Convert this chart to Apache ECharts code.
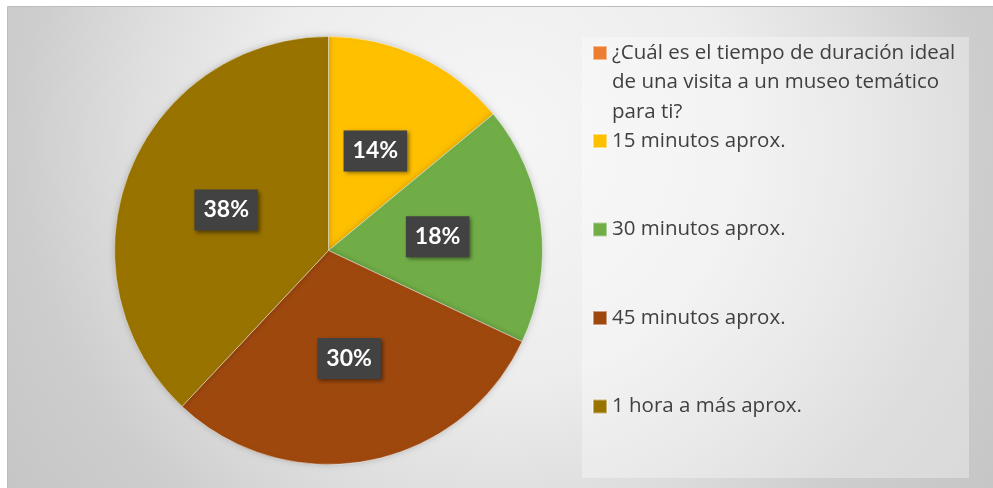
<!DOCTYPE html>
<html>
<head>
<meta charset="utf-8">
<style>
  html, body { margin: 0; padding: 0; background: #ffffff; }
  #chart { width: 993px; height: 488px; }
</style>
<script src="https://cdn.jsdelivr.net/npm/echarts@6/dist/echarts.min.js"></script>
</head>
<body>
<div id="chart"></div>
<script>
// Survey question shown as the first legend entry (it carries no share of the pie)
const question = '¿Cuál es el tiempo de duración ideal de una visita a un museo temático para ti?';
const questionLines = ['¿Cuál es el tiempo de duración ideal', 'de una visita a un museo temático', 'para ti?'];

// Answer categories and their percentages
const categories = [question, '15 minutos aprox.', '30 minutos aprox.', '45 minutos aprox.', '1 hora a más aprox.'];
const shares = [0, 14, 18, 30, 38];
const colors = ['#ED7D31', '#FFC000', '#70AD47', '#9E480E', '#997300'];

const chart = echarts.init(document.getElementById('chart'), null, { renderer: 'canvas' });

const pieData = categories.map((name, i) => ({
  name: name,
  value: shares[i],
  itemStyle: { color: colors[i] },
  label: { show: shares[i] > 0 }
}));

const LINE_H = 29.5;
const legendText = {
  fontFamily: 'Open Sans',
  fontSize: 20.5,
  color: '#404040',
  lineHeight: LINE_H
};

chart.setOption({
  animation: false,
  graphic: [
    {
      type: 'rect',
      z: -10,
      silent: true,
      shape: { x: 7.5, y: 6.5, width: 1000, height: 500 },
      style: {
        fill: {
          type: 'radial', x: 500, y: 140, r: 600, global: true,
          colorStops: [
            { offset: 0, color: '#f6f6f6' },
            { offset: 0.4, color: '#ededed' },
            { offset: 0.6, color: '#dfdfdf' },
            { offset: 0.8, color: '#cdcdcd' },
            { offset: 1, color: '#c6c6c6' }
          ]
        },
        stroke: '#bdbdbd',
        lineWidth: 1
      }
    },
    {
      type: 'rect',
      z: -9,
      silent: true,
      shape: { x: 582, y: 37, width: 387, height: 441 },
      style: { fill: 'rgba(255,255,255,0.33)' }
    }
  ],
  legend: [
    {
      // two leading blank lines keep the marker beside the first line of the question
      data: [question],
      orient: 'vertical',
      left: 592,
      top: 53 - 2.5 * LINE_H,
      padding: 0,
      itemWidth: 14,
      itemHeight: 14,
      icon: 'rect',
      selectedMode: false,
      formatter: () => '\n\n' + questionLines.join('\n'),
      textStyle: legendText
    },
    {
      data: categories.slice(1),
      orient: 'vertical',
      left: 592,
      top: 141 - LINE_H / 2,
      padding: 0,
      itemGap: 88.5 - LINE_H,
      itemWidth: 14,
      itemHeight: 14,
      icon: 'rect',
      selectedMode: false,
      textStyle: legendText
    }
  ],
  series: [
    {
      type: 'pie',
      center: [328.5, 250.5],
      radius: 214,
      startAngle: 90,
      clockwise: true,
      avoidLabelOverlap: false,
      silent: true,
      itemStyle: {
        borderColor: 'rgba(255,255,255,0.45)',
        borderWidth: 1,
        shadowBlur: 6,
        shadowColor: 'rgba(0,0,0,0.18)'
      },
      label: {
        position: 'inside',
        formatter: '{c}%',
        fontFamily: 'Lato',
        fontWeight: 'bold',
        fontSize: 23,
        color: '#ffffff',
        backgroundColor: '#424242',
        padding: [9, 9, 9, 9],
        shadowColor: 'rgba(0,0,0,0.45)',
        shadowBlur: 4,
        shadowOffsetX: 2,
        shadowOffsetY: 2
      },
      labelLine: { show: false },
      data: pieData
    }
  ]
});
</script>
</body>
</html>
